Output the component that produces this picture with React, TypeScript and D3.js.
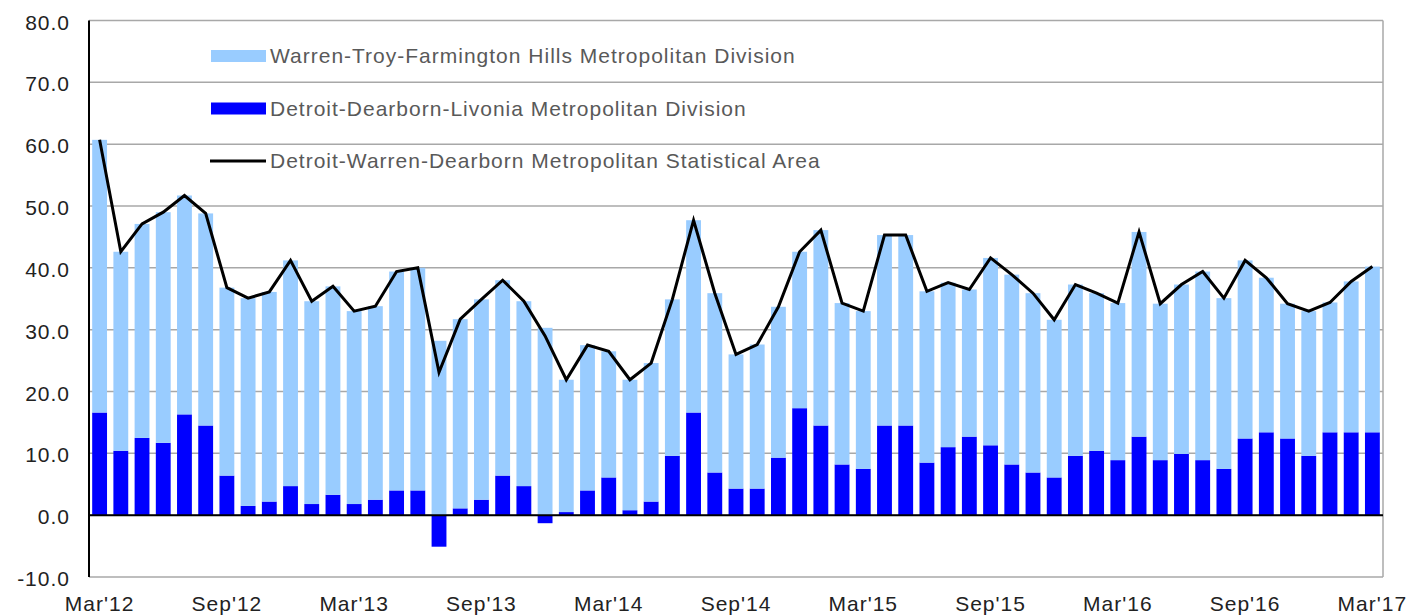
import React from 'react';
import * as d3 from 'd3';

// months, Mar'12 .. Mar'17
const months = [
  "Mar'12", "Apr'12", "May'12", "Jun'12", "Jul'12", "Aug'12", "Sep'12", "Oct'12", "Nov'12", "Dec'12",
  "Jan'13", "Feb'13", "Mar'13", "Apr'13", "May'13", "Jun'13", "Jul'13", "Aug'13", "Sep'13", "Oct'13", "Nov'13", "Dec'13",
  "Jan'14", "Feb'14", "Mar'14", "Apr'14", "May'14", "Jun'14", "Jul'14", "Aug'14", "Sep'14", "Oct'14", "Nov'14", "Dec'14",
  "Jan'15", "Feb'15", "Mar'15", "Apr'15", "May'15", "Jun'15", "Jul'15", "Aug'15", "Sep'15", "Oct'15", "Nov'15", "Dec'15",
  "Jan'16", "Feb'16", "Mar'16", "Apr'16", "May'16", "Jun'16", "Jul'16", "Aug'16", "Sep'16", "Oct'16", "Nov'16", "Dec'16",
  "Jan'17", "Feb'17", "Mar'17",
];

const detroit = [
  16.6, 10.4, 12.5, 11.7, 16.3, 14.5, 6.4, 1.5, 2.2, 4.7,
  1.8, 3.3, 1.8, 2.5, 4.0, 4.0, -5.1, 1.1, 2.5, 6.4, 4.7, -1.3,
  0.5, 4.0, 6.1, 0.8, 2.2, 9.6, 16.6, 6.9, 4.3, 4.3, 9.3, 17.3,
  14.5, 8.2, 7.5, 14.5, 14.5, 8.5, 11.0, 12.7, 11.3, 8.2, 6.9, 6.1,
  9.6, 10.4, 8.9, 12.7, 8.9, 9.9, 8.9, 7.5, 12.4, 13.4, 12.4, 9.6,
  13.4, 13.4, 13.4,
];

const warren = [
  44.1, 32.2, 34.6, 37.3, 35.4, 34.3, 30.4, 33.6, 33.9, 36.5,
  32.8, 33.7, 31.2, 31.3, 35.4, 36.0, 28.2, 30.6, 32.4, 31.6, 29.9, 30.3,
  21.4, 23.5, 20.4, 21.1, 22.4, 25.3, 31.1, 29.0, 21.7, 23.3, 24.4, 25.3,
  31.6, 26.1, 25.5, 30.8, 30.8, 27.7, 26.6, 23.8, 30.3, 30.7, 29.0, 25.5,
  27.7, 25.5, 25.4, 33.1, 25.3, 27.4, 30.5, 27.6, 28.8, 25.0, 21.8, 23.4,
  21.0, 24.4, 26.8,
];

const metro = [
  60.7, 42.6, 47.1, 49.0, 51.7, 48.8, 36.8, 35.1, 36.1, 41.2,
  34.6, 37.0, 33.0, 33.8, 39.4, 40.0, 23.1, 31.7, 34.9, 38.0, 34.6, 29.0,
  21.9, 27.5, 26.5, 21.9, 24.6, 34.9, 47.7, 35.9, 26.0, 27.6, 33.7, 42.6,
  46.1, 34.3, 33.0, 45.3, 45.3, 36.2, 37.6, 36.5, 41.6, 38.9, 35.9, 31.6,
  37.3, 35.9, 34.3, 45.8, 34.2, 37.3, 39.4, 35.1, 41.2, 38.4, 34.2, 33.0,
  34.4, 37.8, 40.2,
];

const xTicks = ["Mar'12", "Sep'12", "Mar'13", "Sep'13", "Mar'14", "Sep'14", "Mar'15", "Sep'15", "Mar'16", "Sep'16", "Mar'17"];
const yTicks = [-10, 0, 10, 20, 30, 40, 50, 60, 70, 80];

const legendItems = [
  { label: 'Warren-Troy-Farmington Hills Metropolitan Division', color: '#99ccff', kind: 'bar' },
  { label: 'Detroit-Dearborn-Livonia Metropolitan Division', color: '#0000ff', kind: 'bar' },
  { label: 'Detroit-Warren-Dearborn Metropolitan Statistical Area', color: '#000000', kind: 'line' },
];

const W = 1410;
const H = 616;
const FONT = '"Liberation Sans", Arial, sans-serif';

const App = () => {
  const left = 89;
  const right = 1383;

  const x = d3.scaleBand().domain(months).range([left, right]).paddingInner(0.3).paddingOuter(0.15);
  const y = d3.scaleLinear().domain([-10, 80]).range([577, 20.5]);

  // table for the stack: one row per month
  const rows = months.map((m, i) => ({ month: m, detroit: detroit[i], warren: warren[i] }));
  const series = d3.stack().keys(['detroit', 'warren']).offset(d3.stackOffsetDiverging)(rows as any);
  const colors = { detroit: '#0000ff', warren: '#99ccff' };

  const line = d3.line<number>()
    .x((_, i) => x(months[i])! + x.bandwidth() / 2)
    .y(d => y(d));

  return (
    <div style={{ position: 'absolute', left: 0, top: 0 }}>
      <svg width={W} height={H} style={{ display: 'block', background: '#fff' }}>
        {/* gridlines */}
        {yTicks.map(t => (
          <line key={t} x1={left} x2={right} y1={y(t)} y2={y(t)} stroke="#a8a8a8" strokeWidth={1.5} />
        ))}
        <line x1={right} x2={right} y1={y(80)} y2={y(-10)} stroke="#a8a8a8" strokeWidth={1.5} />

        {/* stacked bars */}
        {series.map(s => (
          <g key={s.key} fill={colors[s.key as 'detroit' | 'warren']}>
            {s.map((d, i) => (
              <rect
                key={i}
                x={x(months[i])}
                width={x.bandwidth()}
                y={y(Math.max(d[0], d[1]))}
                height={Math.abs(y(d[0]) - y(d[1]))}
              />
            ))}
          </g>
        ))}

        {/* axes */}
        <line x1={left} x2={right} y1={y(0)} y2={y(0)} stroke="#000" strokeWidth={2} />
        <line x1={left} x2={left} y1={y(80)} y2={y(-10)} stroke="#000" strokeWidth={2} />

        {/* total line */}
        <path d={line(metro) || ''} fill="none" stroke="#000" strokeWidth={3} strokeLinejoin="miter" />

        {/* y tick labels */}
        {yTicks.map(t => (
          <text key={t} x={70} y={y(t) + 9} textAnchor="end" fontFamily={FONT} fontSize={21}
            letterSpacing={1} fill="#222">
            {t.toFixed(1)}
          </text>
        ))}

        {/* x tick labels */}
        {xTicks.map(t => (
          <text key={t} x={x(t)! + x.bandwidth() / 2} y={611} textAnchor="middle" fontFamily={FONT}
            fontSize={21} letterSpacing={1} fill="#222">
            {t}
          </text>
        ))}

        {/* legend */}
        {legendItems.map((item, i) => {
          const base = 63 + i * 52.5;
          return (
            <g key={item.label}>
              {item.kind === 'bar' ? (
                <rect x={211} y={base - 13} width={55} height={12} fill={item.color} />
              ) : (
                <line x1={210} x2={266} y1={base - 7} y2={base - 7} stroke={item.color} strokeWidth={3} />
              )}
              <text x={270} y={base} fontFamily={FONT} fontSize={21} letterSpacing={1} fill="#595959">
                {item.label}
              </text>
            </g>
          );
        })}
      </svg>
    </div>
  );
};

export default App;
